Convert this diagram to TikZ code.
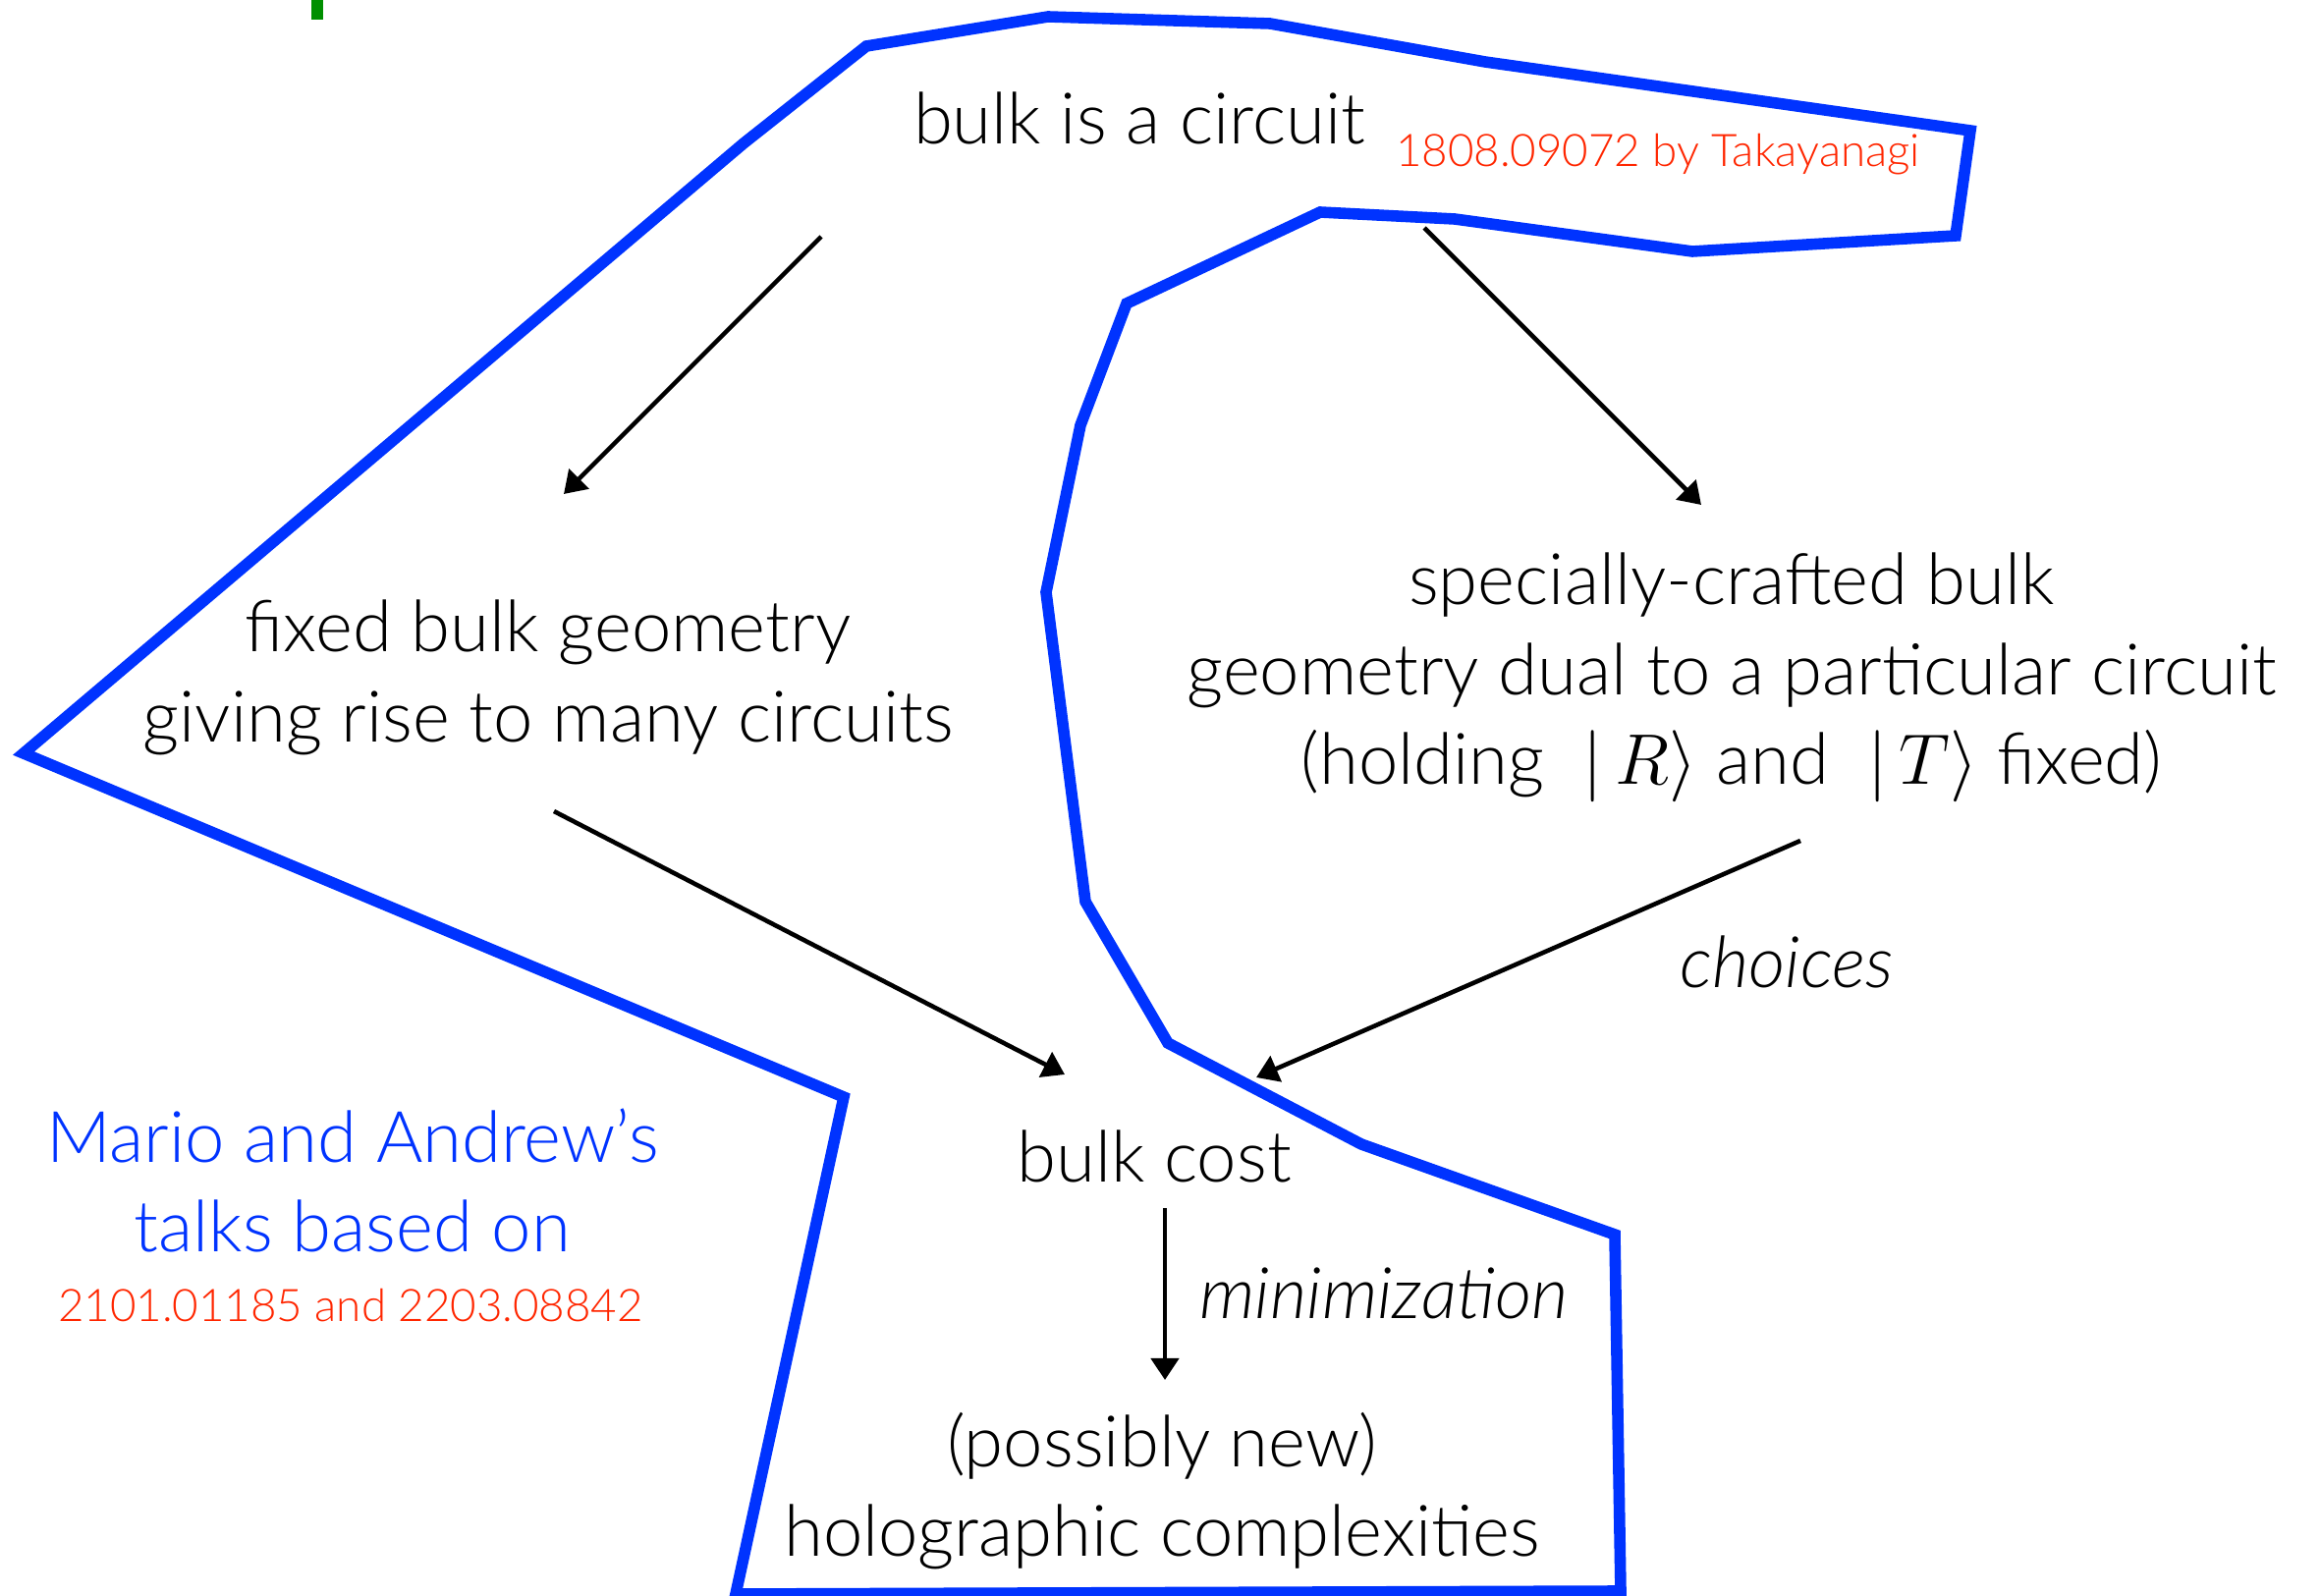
\documentclass[tikz,border=0pt]{standalone}
\usepackage{fontspec}
\setmainfont{Lato Light}[ItalicFont={Lato Light Italic}]
\usetikzlibrary{arrows.meta}
\definecolor{hblue}{RGB}{0,51,255}
\definecolor{hred}{RGB}{255,38,0}
\definecolor{hgreen}{RGB}{0,143,0}
\begin{document}
\begin{tikzpicture}[x=0.01cm,y=-0.01cm,
  txt/.style={align=center,font=\fontsize{20.6}{26}\selectfont,inner sep=0pt},
  reftxt/.style={align=center,font=\fontsize{13}{16}\selectfont,text=hred,inner sep=0pt},
  conn/.style={line width=1.3pt,-{Triangle[length=0.22cm,width=0.28cm]}},
  region/.style={draw=hblue,line width=3.3pt,line join=miter}]
\useasboundingbox (0,0) rectangle (2363,1625);
\fill[hgreen] (317,0) rectangle (329,20);
\draw[region] (882,47) -- (1067,17) -- (1293,24) -- (1512,63) -- (2006,133) -- (1991,240)
  -- (1723,256) -- (1481,223) -- (1344,216) -- (1147,309) -- (1100,433) -- (1065,603)
  -- (1105,918) -- (1189,1062) -- (1386,1165) -- (1644,1257) -- (1650,1620) -- (749,1623)
  -- (859,1117) -- (24,767) -- (757,146) -- cycle;
\node[txt] (circ) at (1160,120) {bulk is a circuit};
\node[reftxt] (tak) at (1688,157) {1808.09072 by Takayanagi};
\node[txt] (fixed) at (558,690) {fixed bulk geometry\\giving rise to many circuits};
\node[txt] (spec) at (1763,690) {specially-crafted bulk\\geometry dual to a particular circuit\\(holding \ $|\,R\rangle$ and \ $|\,T\rangle$ fixed)};
\node[txt,font=\fontsize{20.6}{26}\selectfont\itshape] (choices) at (1819,979) {choices};
\node[txt] (cost) at (1175,1177) {bulk cost};
\node[txt,font=\fontsize{20.6}{26}\selectfont\itshape] (minim) at (1409,1317) {minimization};
\node[txt] (holo) at (1183,1518) {(possibly new)\\holographic complexities};
\node[txt,text=hblue] (talks) at (359,1202) {Mario and Andrew’s\\talks based on};
\node[reftxt] (refs) at (357,1329) {2101.01185 and 2203.08842};
\coordinate (a1s) at (836,241); \coordinate (a1e) at (574,503);
\coordinate (a2s) at (1450,232); \coordinate (a2e) at (1732,514);
\coordinate (a3s) at (564,826); \coordinate (a3e) at (1084,1094);
\coordinate (a4s) at (1833,856); \coordinate (a4e) at (1279,1097);
\coordinate (a5s) at (1186,1230); \coordinate (a5e) at (1186,1405);
\draw[conn] (a1s) -- (a1e);
\draw[conn] (a2s) -- (a2e);
\draw[conn] (a3s) -- (a3e);
\draw[conn] (a4s) -- (a4e);
\draw[conn] (a5s) -- (a5e);
\end{tikzpicture}
\end{document}
